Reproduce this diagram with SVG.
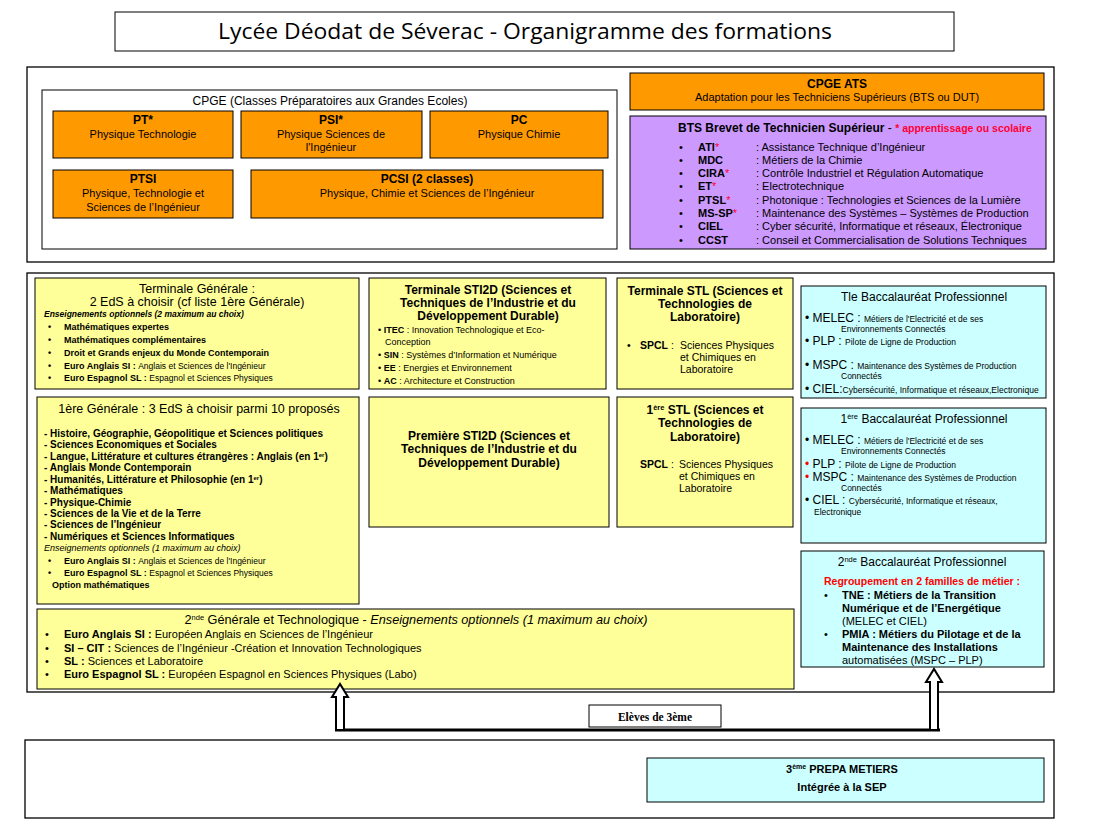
<svg xmlns="http://www.w3.org/2000/svg" width="1119" height="838" viewBox="0 0 1119 838">
<style>
text{font-family:"Liberation Sans",Arial,sans-serif;fill:#000}
.c{text-anchor:middle}
.b{font-weight:bold}
.i{font-style:italic}
.red{fill:#ff0033}
.rd{fill:#ff0000}
.bx{stroke:#000;stroke-width:1}
.org{fill:#ff9900}
.lav{fill:#cc99ff}
.yel{fill:#ffff99}
.cy{fill:#ccffff}
.frame{fill:none;stroke:#000;stroke-width:1.3}
.t12{font-size:12px}
.t11{font-size:11px}
.t9{font-size:9px}
.arr{fill:#fff;stroke:#000;stroke-width:2;stroke-linejoin:miter}
</style>
<rect width="1119" height="838" fill="#fff"/>

<g id="title">
<rect x="115" y="12" width="839" height="39" fill="#fff" class="bx"/>
<text x="525" y="39" class="c" style="font-family:'Open Sans','Liberation Sans',sans-serif;font-size:21px" textLength="614" lengthAdjust="spacingAndGlyphs">Lycée Déodat de Séverac - Organigramme des formations</text>
</g>

<g id="frames">
<rect x="27" y="67" width="1027" height="195" class="frame"/>
<rect x="27" y="273" width="1027" height="419" class="frame"/>
<rect x="25" y="740" width="1029" height="78" class="frame"/>
</g>

<g id="cpge">
<rect x="42" y="90" width="575" height="159" fill="#fff" class="bx"/>
<text x="330" y="105" class="c t12">CPGE (Classes Préparatoires aux Grandes Ecoles)</text>
</g>
<g id="pt">
<rect x="53" y="111" width="180" height="47" class="bx org"/>
<text x="143" y="124" class="c t12 b">PT*</text>
<text x="143" y="138" class="c t11">Physique Technologie</text>
</g>
<g id="psi">
<rect x="241" y="111" width="181" height="47" class="bx org"/>
<text x="331" y="124" class="c t12 b">PSI*</text>
<text x="331" y="138" class="c t11">Physique Sciences de</text>
<text x="331" y="151" class="c t11">l'Ingénieur</text>
</g>
<g id="pc">
<rect x="430" y="111" width="178" height="47" class="bx org"/>
<text x="519" y="124" class="c t12 b">PC</text>
<text x="519" y="138" class="c t11">Physique Chimie</text>
</g>
<g id="ptsi">
<rect x="53" y="170" width="180" height="48" class="bx org"/>
<text x="143" y="183" class="c t12 b">PTSI</text>
<text x="143" y="197" class="c t11">Physique, Technologie et</text>
<text x="143" y="211" class="c t11">Sciences de l’Ingénieur</text>
</g>
<g id="pcsi">
<rect x="251" y="170" width="352" height="48" class="bx org"/>
<text x="427" y="183" class="c t12 b">PCSI (2 classes)</text>
<text x="427" y="197" class="c t11">Physique, Chimie et Sciences de l’Ingénieur</text>
</g>

<g id="ats">
<rect x="630" y="73" width="414" height="37" class="bx org"/>
<text x="837" y="88" class="c t12 b">CPGE ATS</text>
<text x="837" y="101" class="c t11">Adaptation pour les Techniciens Supérieurs (BTS ou DUT)</text>
</g>

<g id="bts">
<rect x="630" y="116" width="416" height="133" class="bx lav"/>
<text x="678" y="132" class="t12 b">BTS Brevet de Technicien Supérieur <tspan font-weight="normal">- </tspan><tspan class="red" font-size="10.5">* apprentissage ou scolaire</tspan></text>
<g class="t11">
<text x="679" y="151">•</text><text x="698" y="151" class="b">ATI<tspan class="red" font-weight="normal">*</tspan></text><text x="756" y="151">: Assistance Technique d’Ingénieur</text>
<text x="679" y="164">•</text><text x="698" y="164" class="b">MDC</text><text x="756" y="164">: Métiers de la Chimie</text>
<text x="679" y="177">•</text><text x="698" y="177" class="b">CIRA<tspan class="red" font-weight="normal">*</tspan></text><text x="756" y="177">: Contrôle Industriel et Régulation Automatique</text>
<text x="679" y="190">•</text><text x="698" y="190" class="b">ET<tspan class="red" font-weight="normal">*</tspan></text><text x="756" y="190">: Electrotechnique</text>
<text x="679" y="204">•</text><text x="698" y="204" class="b">PTSL<tspan class="red" font-weight="normal">*</tspan></text><text x="756" y="204">: Photonique : Technologies et Sciences de la Lumière</text>
<text x="679" y="217">•</text><text x="698" y="217" class="b">MS-SP<tspan class="red" font-weight="normal">*</tspan></text><text x="756" y="217">: Maintenance des Systèmes – Systèmes de Production</text>
<text x="679" y="230">•</text><text x="698" y="230" class="b">CIEL</text><text x="756" y="230">: Cyber sécurité, Informatique et réseaux, Électronique</text>
<text x="679" y="244">•</text><text x="698" y="244" class="b">CCST</text><text x="756" y="244">: Conseil et Commercialisation de Solutions Techniques</text>
</g>
</g>

<g id="tle-gen">
<rect x="35" y="278" width="324" height="111" class="bx yel"/>
<text x="197" y="293" class="c" font-size="12.5">Terminale Générale :</text>
<text x="197" y="306" class="c" font-size="12.5">2 EdS à choisir (cf liste 1ère Générale)</text>
<text x="44" y="317" class="i b" font-size="8.5">Enseignements optionnels (2 maximum au choix)</text>
<g class="t9 b">
<text x="48" y="330">•</text><text x="64" y="330">Mathématiques expertes</text>
<text x="48" y="343">•</text><text x="64" y="343">Mathématiques complémentaires</text>
<text x="48" y="356">•</text><text x="64" y="356">Droit et Grands enjeux du Monde Contemporain</text>
<text x="48" y="369">•</text><text x="64" y="369">Euro Anglais SI : <tspan font-weight="normal" font-size="8.5">Anglais et Sciences de l'Ingénieur</tspan></text>
<text x="48" y="381">•</text><text x="64" y="381">Euro Espagnol SL : <tspan font-weight="normal" font-size="8.5">Espagnol et Sciences Physiques</tspan></text>
</g>
</g>

<g id="tle-sti2d">
<rect x="369" y="278" width="237" height="111" class="bx yel"/>
<text x="488" y="294" class="c t12 b">Terminale STI2D  (Sciences et</text>
<text x="488" y="307" class="c t12 b">Techniques de l’Industrie et  du</text>
<text x="488" y="320" class="c t12 b">Développement Durable)</text>
<g font-size="9">
<text x="378" y="333">• <tspan class="b">ITEC</tspan> : Innovation Technologique et Eco-</text>
<text x="385" y="345">Conception</text>
<text x="378" y="358">• <tspan class="b">SIN</tspan> : Systèmes d’Information et Numérique</text>
<text x="378" y="371">• <tspan class="b">EE</tspan> : Energies et Environnement</text>
<text x="378" y="384">• <tspan class="b">AC</tspan> : Architecture et Construction</text>
</g>
</g>

<g id="tle-stl">
<rect x="617" y="278" width="176" height="111" class="bx yel"/>
<text x="705" y="295" class="c t12 b">Terminale STL (Sciences et</text>
<text x="705" y="308" class="c t12 b">Technologies de</text>
<text x="705" y="321" class="c t12 b">Laboratoire)</text>
<g font-size="10.5">
<text x="627" y="349">•</text>
<text x="640" y="349"><tspan class="b">SPCL</tspan> :</text>
<text x="680" y="349">Sciences Physiques</text>
<text x="680" y="361">et Chimiques en</text>
<text x="680" y="373">Laboratoire</text>
</g>
</g>

<g id="tle-pro">
<rect x="801" y="286" width="245" height="112" class="bx cy"/>
<text x="924" y="301" class="c t12">Tle Baccalauréat Professionnel</text>
<g font-size="8.5">
<text x="805" y="322"><tspan font-size="12">• MELEC : </tspan>Métiers de l'Electricité et de ses</text>
<text x="841" y="332">Environnements   Connectés</text>
<text x="805" y="345"><tspan font-size="12">• PLP : </tspan>Pilote de Ligne de Production</text>
<text x="805" y="369"><tspan font-size="12">• MSPC : </tspan>Maintenance des Systèmes de Production</text>
<text x="841" y="379">Connectés</text>
<text x="805" y="393"><tspan font-size="12">• CIEL:</tspan>Cybersécurité, Informatique et réseaux,Electronique</text>
</g>
</g>

<g id="prem-gen">
<rect x="37" y="397" width="322" height="207" class="bx yel"/>
<text x="199" y="413" class="c" font-size="12.5">1ère Générale : 3 EdS à choisir parmi 10 proposés</text>
<g class="b" font-size="10">
<text x="44" y="437">- Histoire, Géographie, Géopolitique et Sciences politiques</text>
<text x="44" y="448">- Sciences Economiques et Sociales</text>
<text x="44" y="460">- Langue, Littérature et cultures étrangères : Anglais (en 1<tspan dy="-3" font-size="6">er</tspan><tspan dy="3">)</tspan></text>
<text x="44" y="471">- Anglais Monde Contemporain</text>
<text x="44" y="483">- Humanités, Littérature et Philosophie (en 1<tspan dy="-3" font-size="6">er</tspan><tspan dy="3">)</tspan></text>
<text x="44" y="494">- Mathématiques</text>
<text x="44" y="506">- Physique-Chimie</text>
<text x="44" y="517">- Sciences de la Vie et de la Terre</text>
<text x="44" y="528">- Sciences de l’Ingénieur</text>
<text x="44" y="540">- Numériques et Sciences Informatiques</text>
</g>
<text x="44" y="551" class="i" font-size="9">Enseignements optionnels (1 maximum au choix)</text>
<g class="t9 b">
<text x="48" y="564">•</text><text x="64" y="564">Euro Anglais SI : <tspan font-weight="normal" font-size="8.5">Anglais et Sciences de l'Ingénieur</tspan></text>
<text x="48" y="576">•</text><text x="64" y="576">Euro Espagnol SL : <tspan font-weight="normal" font-size="8.5">Espagnol et Sciences Physiques</tspan></text>
<text x="52" y="588">Option mathématiques</text>
</g>
</g>

<g id="prem-sti2d">
<rect x="369" y="397" width="240" height="130" class="bx yel"/>
<text x="489" y="440" class="c t12 b">Première STI2D (Sciences et</text>
<text x="489" y="453" class="c t12 b">Techniques de l’Industrie et du</text>
<text x="489" y="467" class="c t12 b">Développement Durable)</text>
</g>

<g id="prem-stl">
<rect x="617" y="397" width="176" height="130" class="bx yel"/>
<text x="705" y="414" class="c t12 b">1<tspan dy="-4" font-size="7.5">ère</tspan><tspan dy="4"> STL (Sciences et</tspan></text>
<text x="705" y="427" class="c t12 b">Technologies de</text>
<text x="705" y="441" class="c t12 b">Laboratoire)</text>
<g font-size="10.5">
<text x="640" y="468"><tspan class="b">SPCL</tspan> :</text>
<text x="679" y="468">Sciences Physiques</text>
<text x="679" y="480">et Chimiques en</text>
<text x="679" y="492">Laboratoire</text>
</g>
</g>

<g id="prem-pro">
<rect x="801" y="408" width="245" height="135" class="bx cy"/>
<text x="924" y="423" class="c t12">1<tspan dy="-4" font-size="7.5">ère</tspan><tspan dy="4"> Baccalauréat Professionnel</tspan></text>
<g font-size="8.5">
<text x="805" y="444"><tspan font-size="12">• MELEC : </tspan>Métiers de l'Electricité et de ses</text>
<text x="841" y="454">Environnements   Connectés</text>
<text x="805" y="468"><tspan font-size="12"><tspan class="rd">•</tspan> PLP : </tspan>Pilote de Ligne de Production</text>
<text x="805" y="481"><tspan font-size="12"><tspan class="rd">•</tspan> MSPC : </tspan>Maintenance des Systèmes de Production</text>
<text x="841" y="491">Connectés</text>
<text x="805" y="504"><tspan font-size="12">• CIEL : </tspan>Cybersécurité, Informatique et réseaux,</text>
<text x="814" y="515">Electronique</text>
</g>
</g>

<g id="sec-pro">
<rect x="801" y="551" width="243" height="116" class="bx cy"/>
<text x="922" y="566" class="c t12">2<tspan dy="-4" font-size="7.5">nde</tspan><tspan dy="4"> Baccalauréat Professionnel</tspan></text>
<text x="922" y="585" class="c b rd" font-size="10.5">Regroupement en 2 familles de métier :</text>
<g font-size="11">
<text x="824" y="599">•</text>
<text x="842" y="599" class="b">TNE : Métiers de la Transition</text>
<text x="842" y="612" class="b">Numérique et de l’Energétique</text>
<text x="842" y="625">(MELEC et CIEL)</text>
<text x="824" y="638">•</text>
<text x="842" y="638" class="b">PMIA : Métiers du Pilotage et de la</text>
<text x="842" y="651" class="b">Maintenance des Installations</text>
<text x="842" y="664">automatisées (MSPC – PLP)</text>
</g>
</g>

<g id="sec-gen">
<rect x="37" y="609" width="757" height="80" class="bx yel"/>
<text x="416" y="624" class="c" font-size="12.7">2<tspan dy="-4" font-size="7.5">nde</tspan><tspan dy="4"> Générale et Technologique - </tspan><tspan class="i">Enseignements optionnels (1 maximum au choix)</tspan></text>
<g font-size="11">
<text x="45" y="638">•</text><text x="64" y="638"><tspan class="b">Euro Anglais SI :</tspan> Européen Anglais en Sciences de l’Ingénieur</text>
<text x="45" y="652">•</text><text x="64" y="652"><tspan class="b">SI – CIT :</tspan> Sciences de l’Ingénieur -Création et Innovation Technologiques</text>
<text x="45" y="665">•</text><text x="64" y="665"><tspan class="b">SL :</tspan> Sciences et Laboratoire</text>
<text x="45" y="678">•</text><text x="64" y="678"><tspan class="b">Euro Espagnol SL :</tspan> Européen Espagnol en Sciences Physiques (Labo)</text>
</g>
</g>

<g id="prepa">
<rect x="647" y="758" width="397" height="44" class="bx cy"/>
<text x="842" y="773" class="c b t11">3<tspan dy="-4" font-size="7">ème</tspan><tspan dy="4"> PREPA METIERS</tspan></text>
<text x="842" y="791" class="c b t11">Intégrée à la SEP</text>
</g>

<g id="connectors">
<line x1="335" y1="730" x2="940" y2="730" stroke="#000" stroke-width="3"/>
<polygon class="arr" points="336,730 336,697 332,697 340,684 348,697 344,697 344,730"/>
<polygon class="arr" points="930,730 930,682 926,682 934,669 942,682 938,682 938,730"/>
</g>

<g id="eleves">
<rect x="589" y="705" width="132" height="22" fill="#fff" class="bx"/>
<text x="655" y="721" class="c b" style="font-family:'Liberation Serif','Times New Roman',serif;font-size:11.5px">Elèves de 3ème</text>
</g>
</svg>
